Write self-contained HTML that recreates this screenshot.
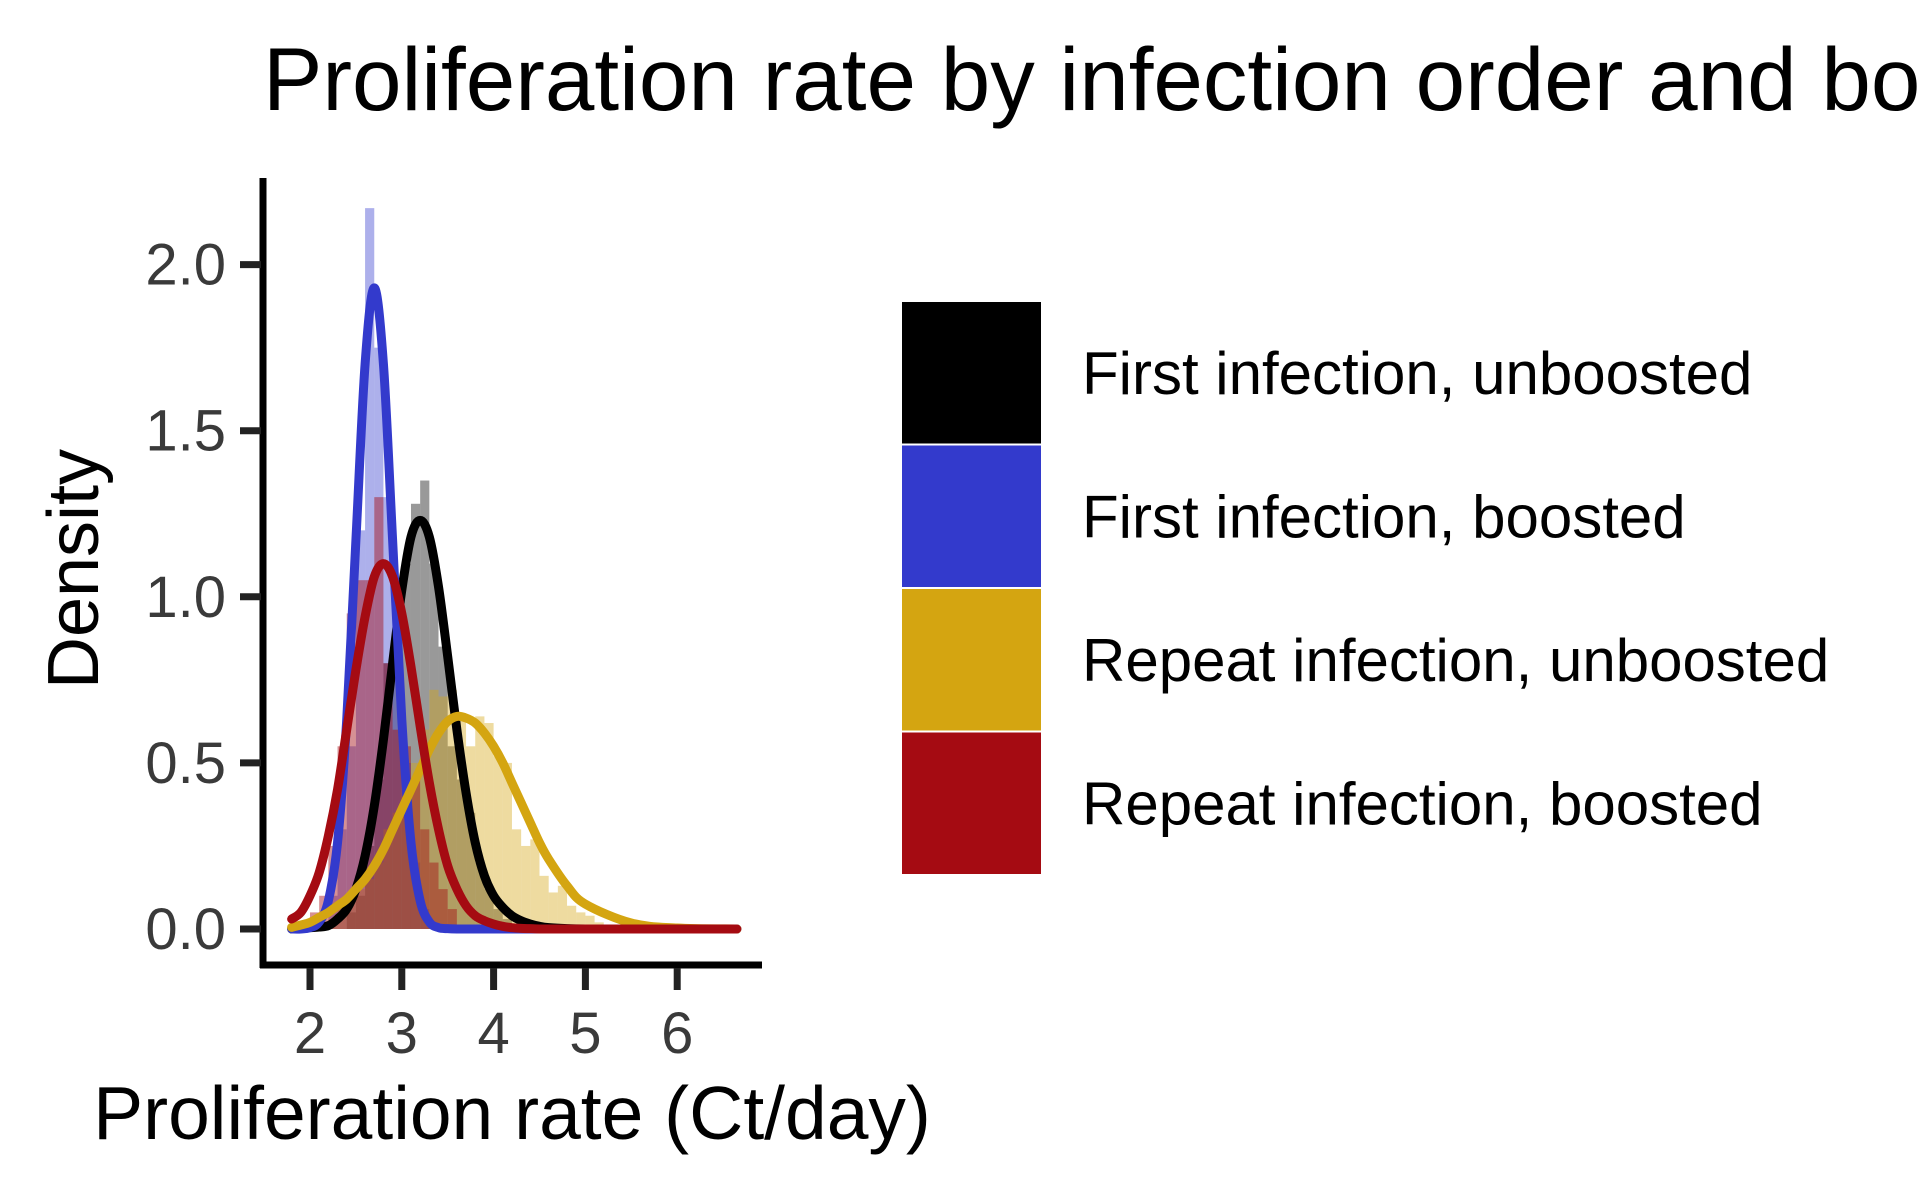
<!DOCTYPE html>
<html><head><meta charset="utf-8"><style>
html,body{margin:0;padding:0;background:#fff;width:1920px;height:1200px;overflow:hidden}
svg{display:block;font-family:"Liberation Sans",Arial,sans-serif}
</style></head><body>
<svg id="chart" width="1920" height="1200" viewBox="0 0 1920 1200" xmlns="http://www.w3.org/2000/svg">
<text x="263" y="110" font-size="89" fill="#000">Proliferation rate by infection order and boosting status</text>
<g id="hist"></g>
<g id="curves"></g>
<g id="axes"></g>
<text transform="translate(98,569) rotate(-90)" text-anchor="middle" font-size="72" fill="#000">Density</text>
<text x="512" y="1139" text-anchor="middle" font-size="75" fill="#000">Proliferation rate (Ct/day)</text>
<g id="legend"></g>
</svg>
<script>
const seriesNames=["First infection, unboosted","First infection, boosted","Repeat infection, unboosted","Repeat infection, boosted"];
const seriesColors=["#000000","#333ACC","#D4A511","#A50B12"];
const xTicks=[2,3,4,5,6];
const yTicks=[0,0.5,1,1.5,2];
const yTickLabels=["0.0","0.5","1.0","1.5","2.0"];
const binWidth=0.1;
const histBlackStart=2.4;
const histBlack=[0.05,0.1,0.25,0.45,0.8,0.9,1.1,1.28,1.35,1.1,0.85,0.55,0.45,0.35,0.2,0.12,0.06,0.03];
const histBlueStart=2.2;
const histBlue=[0.1,0.3,0.55,1.2,2.17,1.75,1.3,0.9,0.5,0.2,0.06];
const histGoldStart=2.2;
const histGold=[0.03,0.06,0.1,0.12,0.15,0.2,0.3,0.35,0.4,0.5,0.6,0.72,0.7,0.72,0.65,0.55,0.64,0.62,0.52,0.5,0.3,0.25,0.27,0.16,0.11,0.13,0.07,0.05,0.04,0.02];
const histRedStart=2.0;
const histRed=[0.05,0.1,0.25,0.55,0.95,1.05,1.05,1.3,0.8,0.6,0.55,0.45,0.3,0.2,0.12,0.06];
const curveX=[1.8,1.9,2.0,2.1,2.2,2.3,2.4,2.5,2.6,2.7,2.8,2.9,3.0,3.1,3.2,3.3,3.4,3.5,3.6,3.7,3.8,3.9,4.0,4.1,4.2,4.3,4.4,4.5,4.6,4.8,5.0,5.5,6.0,6.65];
const curveBlack=[0,0.002,0.004,0.006,0.01,0.03,0.06,0.12,0.22,0.37,0.57,0.80,1.02,1.18,1.23,1.18,1.03,0.82,0.60,0.41,0.26,0.16,0.10,0.065,0.04,0.025,0.015,0.008,0.004,0.001,0,0,0,0];
const curveBlue=[0,0,0.004,0.021,0.085,0.26,0.63,1.17,1.70,1.93,1.70,1.17,0.63,0.26,0.085,0.021,0.004,0.001,0,0,0,0,0,0,0,0,0,0,0,0,0,0,0,0];
const curveGold=[0.005,0.012,0.02,0.035,0.05,0.07,0.09,0.12,0.15,0.19,0.24,0.30,0.36,0.42,0.48,0.54,0.59,0.625,0.64,0.635,0.62,0.59,0.55,0.50,0.44,0.38,0.32,0.26,0.21,0.13,0.075,0.018,0.003,0];
const curveRed=[0.03,0.05,0.10,0.17,0.28,0.42,0.60,0.78,0.94,1.06,1.10,1.06,0.95,0.79,0.61,0.44,0.30,0.19,0.12,0.07,0.04,0.025,0.015,0.008,0.004,0.002,0.001,0,0,0,0,0,0,0];

const X=v=>310+(v-2)*91.8;
const Y=v=>929-v*332.2;
const NS="http://www.w3.org/2000/svg";
function mk(tag,attrs,parent){const e=document.createElementNS(NS,tag);for(const k in attrs)e.setAttribute(k,attrs[k]);parent.appendChild(e);return e;}

const hg=document.getElementById('hist');
const hists=[[histBlackStart,histBlack,"rgba(0,0,0,0.4)"],[histBlueStart,histBlue,"rgba(51,58,204,0.4)"],[histGoldStart,histGold,"rgba(212,165,17,0.4)"],[histRedStart,histRed,"rgba(165,11,18,0.45)"]];
hists.forEach((h,si)=>{h[1].forEach((v,i)=>{const x0=h[0]+i*binWidth;
 const r=mk('rect',{x:X(x0),y:Y(v),width:X(x0+binWidth)-X(x0),height:Y(0)-Y(v),fill:h[2]},hg);
 
 });});

function smooth(xs,ys){const p=xs.map((x,i)=>[X(x),Y(ys[i])]);let d=`M${p[0][0]},${p[0][1]}`;
 for(let i=0;i<p.length-1;i++){const p0=p[Math.max(0,i-1)],p1=p[i],p2=p[i+1],p3=p[Math.min(p.length-1,i+2)];
 d+=` C${p1[0]+(p2[0]-p0[0])/6},${p1[1]+(p2[1]-p0[1])/6} ${p2[0]-(p3[0]-p1[0])/6},${p2[1]-(p3[1]-p1[1])/6} ${p2[0]},${p2[1]}`;}return d;}
const cg=document.getElementById('curves');
[curveBlack,curveBlue,curveGold,curveRed].forEach((ys,i)=>{
 const p=mk('path',{d:smooth(curveX,ys),fill:'none',stroke:seriesColors[i],'stroke-width':9,'stroke-linecap':'round','stroke-linejoin':'round'},cg);
 
 });

const ag=document.getElementById('axes');
const ya=mk('line',{x1:263,y1:178,x2:263,y2:968,stroke:'#000','stroke-width':7},ag);


const xa=mk('line',{x1:260,y1:965,x2:762,y2:965,stroke:'#000','stroke-width':7},ag);


yTicks.forEach((v,i)=>{mk('line',{x1:240,y1:Y(v),x2:261,y2:Y(v),stroke:'#222','stroke-width':7},ag);
 const t=mk('text',{x:226,y:Y(v)+20,'text-anchor':'end','font-size':58,fill:'#3a3a3a'},ag);t.textContent=yTickLabels[i];
 
 });
xTicks.forEach(v=>{mk('line',{x1:X(v),y1:968,x2:X(v),y2:990,stroke:'#222','stroke-width':7},ag);
 const t=mk('text',{x:X(v),y:1053,'text-anchor':'middle','font-size':58,fill:'#3a3a3a'},ag);t.textContent=v;
 
 });

const lg=document.getElementById('legend');
seriesNames.forEach((n,i)=>{const y=301+i*143.5;
 const r=mk('rect',{x:901,y:y,width:141,height:143.5,fill:seriesColors[i],stroke:'#fff','stroke-width':2},lg);
 
 
 const t=mk('text',{x:1082,y:y+93,'font-size':60,fill:'#000'},lg);t.textContent=n;
 
 });
</script>
</body></html>
